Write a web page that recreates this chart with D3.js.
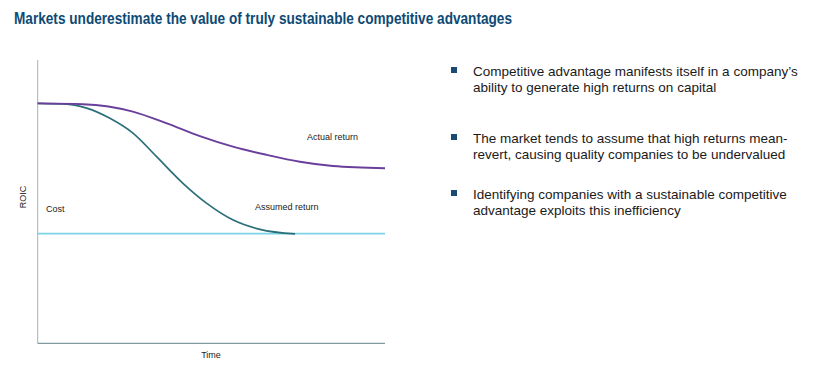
<!DOCTYPE html>
<meta charset="utf-8">
<script src="https://d3js.org/d3.v7.min.js"></script>
<style>
body { margin: 0; background: #fff; }
svg { font-family: "Liberation Sans", Arial, sans-serif; }
</style>
<div id="chart"></div>
<script>

// conceptual chart: time 0-100, ROIC 0-100 (arbitrary units)
var actualTime   = [0, 13.0, 27.4, 37.2, 46.7, 56.2, 66.0, 75.5, 85.0, 100];
var actualRoic   = [84.7, 84.4, 81.8, 77.6, 73.1, 69.4, 66.5, 64.1, 62.6, 61.8];
var assumedTime  = [0, 8.4, 14.1, 20.8, 27.5, 34.3, 41.9, 48.7, 56.3, 64.0, 74.1];
var assumedRoic  = [84.7, 84.4, 83.0, 79.4, 74.1, 65.8, 56.4, 49.4, 43.5, 40.2, 38.6];
var costRoic = 38.7;

var bullets = [
  ["Competitive advantage manifests itself in a company\u2019s", "ability to generate high returns on capital"],
  ["The market tends to assume that high returns mean-", "revert, causing quality companies to be undervalued"],
  ["Identifying companies with a sustainable competitive", "advantage exploits this inefficiency"]
];
var bulletY = [76, 143, 199];

var svg = d3.select("#chart").append("svg")
  .attr("width", 828)
  .attr("height", 372);

// title (the original font is narrower, so squeeze it to the same width)
svg.append("text")
  .attr("x", 14)
  .attr("y", 24)
  .attr("textLength", 498)
  .attr("lengthAdjust", "spacingAndGlyphs")
  .style("font-size", "16.5px")
  .style("font-weight", "bold")
  .style("fill", "#0d4a75")
  .text("Markets underestimate the value of truly sustainable competitive advantages");

var margin = {left: 37.7, top: 60, right: 385, bottom: 343.3};

var x = d3.scaleLinear().domain([0, 100]).range([margin.left, margin.right]);
var y = d3.scaleLinear().domain([0, 100]).range([margin.bottom, margin.top]);

// axes (no ticks)
svg.append("line")
  .attr("x1", x(0)).attr("x2", x(0))
  .attr("y1", y(0)).attr("y2", y(100))
  .style("stroke", "#9fb5bd").style("stroke-width", 1);
svg.append("line")
  .attr("x1", x(0)).attr("x2", x(100))
  .attr("y1", y(0)).attr("y2", y(0))
  .style("stroke", "#5f8289").style("stroke-width", 1);

// cost line
svg.append("line")
  .attr("x1", x(0)).attr("x2", x(100))
  .attr("y1", y(costRoic)).attr("y2", y(costRoic))
  .style("stroke", "#7dd3e8").style("stroke-width", 1.7);

var line = d3.line()
  .x(function(d) { return x(d[0]); })
  .y(function(d) { return y(d[1]); })
  .curve(d3.curveMonotoneX);

svg.append("path")
  .datum(d3.zip(assumedTime, assumedRoic))
  .attr("d", line)
  .style("fill", "none")
  .style("stroke", "#2b6f78")
  .style("stroke-width", 1.7);

svg.append("path")
  .datum(d3.zip(actualTime, actualRoic))
  .attr("d", line)
  .style("fill", "none")
  .style("stroke", "#6a3f9c")
  .style("stroke-width", 1.9);

// chart labels
var lbl = function(tx, ty, s, anchor) {
  return svg.append("text")
    .attr("x", tx).attr("y", ty)
    .attr("text-anchor", anchor || "start")
    .style("font-size", "9px")
    .style("fill", "#222")
    .text(s);
};
lbl(307, 140, "Actual return");
lbl(255, 210, "Assumed return");
lbl(46, 212, "Cost");
lbl(211, 358, "Time", "middle");
lbl(0, 0, "ROIC", "middle")
  .attr("transform", "translate(26,197) rotate(-90)");

// bullet list
bullets.forEach(function(b, i) {
  svg.append("rect")
    .attr("x", 451).attr("y", bulletY[i] - 9)
    .attr("width", 6).attr("height", 6)
    .style("fill", "#1b4a73");
  b.forEach(function(s, j) {
    svg.append("text")
      .attr("x", 473)
      .attr("y", bulletY[i] + j * 15.5)
      .style("font-size", "13.5px")
      .style("fill", "#1a1a1a")
      .text(s);
  });
});
</script>
